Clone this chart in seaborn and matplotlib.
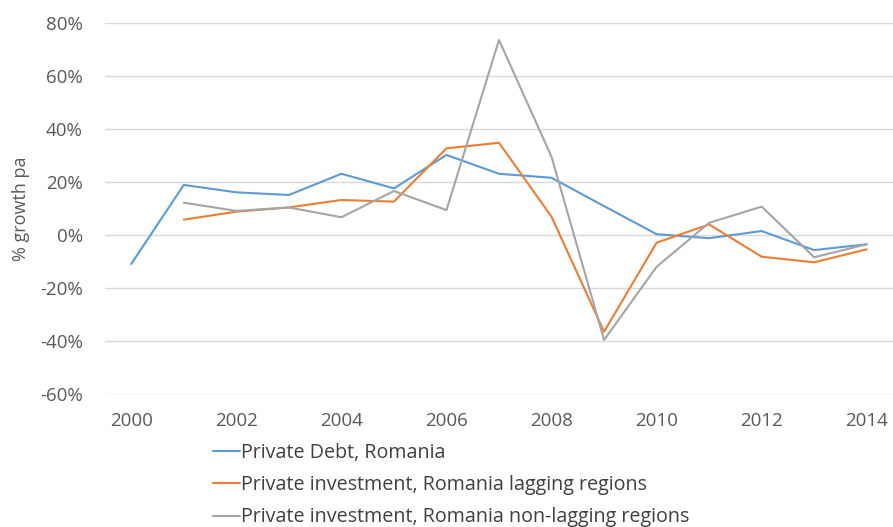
import matplotlib
matplotlib.use('Agg')
import matplotlib.pyplot as plt
import pandas as pd
import numpy as np
import seaborn as sns

# data (% growth per year)
years = list(range(2000, 2015))
private_debt = [-10.9, 18.9, 16.1, 15.1, 23.1, 17.6, 30.2, 23.1, 21.6, 10.9,
                0.3, -1.2, 1.5, -5.7, -3.5]
lagging = [np.nan, 5.8, 8.8, 10.4, 13.2, 12.6, 32.7, 34.8, 6.9, -36.5,
           -2.9, 4.0, -8.2, -10.3, -5.4]
non_lagging = [np.nan, 12.2, 9.1, 10.4, 6.7, 16.6, 9.4, 73.6, 29.5, -39.6,
               -12.0, 4.6, 10.7, -8.4, -3.5]
series_names = ['Private Debt, Romania',
                'Private investment, Romania lagging regions',
                'Private investment, Romania non-lagging regions']
colors = ['#5B9BD5', '#ED7D31', '#A5A5A5']
y_ticks = [-60, -40, -20, 0, 20, 40, 60, 80]
x_ticks = list(range(2000, 2015, 2))

df = pd.DataFrame({
    'year': years * 3,
    'value': private_debt + lagging + non_lagging,
    'series': [series_names[0]] * 15 + [series_names[1]] * 15 + [series_names[2]] * 15,
})
df = df.dropna()

sns.set_style('white')
plt.rcParams['font.family'] = ['Open Sans', 'DejaVu Sans']

fig = plt.figure(figsize=(8.93, 5.27), dpi=100)
ax = fig.add_axes([105 / 893, 1 - 394 / 527, 1 - 105 / 893, (394 - 23) / 527])

sns.lineplot(data=df, x='year', y='value', hue='series', palette=colors,
             hue_order=series_names, linewidth=1.5, ax=ax, legend=True)

ax.set_xlim(1999.5, 2014.5)
ax.set_ylim(-60, 80)
ax.set_yticks(y_ticks)
ax.set_yticklabels([f'{v}%' for v in y_ticks])
ax.set_xticks(x_ticks)
ax.set_xticklabels([str(v) for v in x_ticks])
ax.grid(axis='y', color='#D9D9D9', linewidth=1)
ax.grid(axis='x', visible=False)
for s in ax.spines.values():
    s.set_visible(False)
ax.tick_params(axis='both', length=0, labelsize=13.5, colors='#595959')
ax.tick_params(axis='y', pad=16)
ax.tick_params(axis='x', pad=13)
ax.set_xlabel('')
ax.set_ylabel('% growth pa', fontsize=13, color='#595959')
ax.yaxis.set_label_coords(-0.095, 0.5)

handles, labels = ax.get_legend_handles_labels()
ax.legend(handles=handles, labels=labels, loc='upper left',
          bbox_to_anchor=(213 / 893, 1 - 443 / 527), bbox_transform=fig.transFigure,
          frameon=False, handlelength=1.37, handletextpad=0.05, labelspacing=0.62,
          fontsize=14.2, labelcolor='#404040', borderaxespad=0, borderpad=0)

fig.savefig('out.png', dpi=100)
